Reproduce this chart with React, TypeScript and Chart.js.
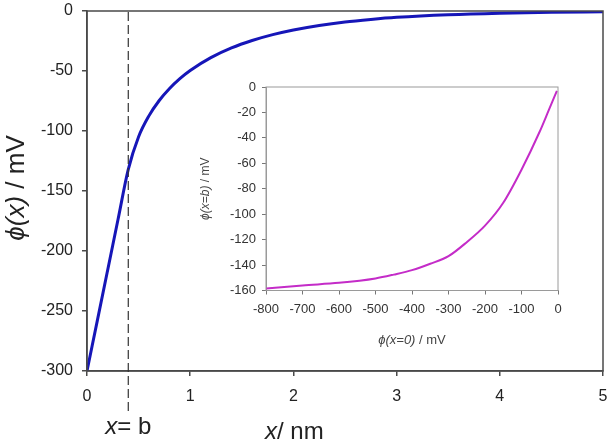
import React, { useEffect, useRef } from "react";
import { Chart, registerables } from "chart.js";

Chart.register(...registerables);

// Potential profile: distance from the surface (nm) and potential (mV)
const distanceNm = [0, 0.1, 0.2, 0.3, 0.4, 0.5, 0.6, 0.7, 0.8, 0.9, 1.0, 1.2, 1.4, 1.6, 1.8, 2.0, 2.25, 2.5, 2.75, 3.0, 3.5, 4.0, 4.5, 5.0];
const potentialMv = [-300, -258, -216, -174, -132, -104.8, -87.4, -74.6, -64.6, -56.4, -49.6, -38.9, -30.8, -24.6, -19.7, -15.8, -12.0, -9.1, -7.0, -5.3, -3.1, -1.8, -1.05, -0.6];

// Position of the plane x = b (nm)
const planeB = 0.4;

// Inset: potential at x = b against surface potential at x = 0 (mV)
const surfacePotential = [-800, -700, -600, -500, -450, -400, -350, -300, -250, -200, -150, -100, -50, -25, -3];
const planePotential = [-158.5, -156, -154, -150.5, -147.5, -144, -139, -133, -122, -109, -91, -65, -35, -18, -3];

const mainXTicks = [0, 1, 2, 3, 4, 5];
const mainYTicks = [0, -50, -100, -150, -200, -250, -300];
const insetXTicks = [-800, -700, -600, -500, -400, -300, -200, -100, 0];
const insetYTicks = [0, -20, -40, -60, -80, -100, -120, -140, -160];

const FAMILY = "'Liberation Sans', Arial, Helvetica, sans-serif";

type Seg = { t: string; italic?: boolean };

function segWidth(ctx: CanvasRenderingContext2D, segs: Seg[], size: number) {
  let w = 0;
  for (const s of segs) {
    ctx.font = `${s.italic ? "italic " : ""}${size}px ${FAMILY}`;
    w += ctx.measureText(s.t).width;
  }
  return w;
}

// Draws mixed italic / upright text starting at x (or centred on x)
function drawSegs(
  ctx: CanvasRenderingContext2D,
  segs: Seg[],
  x: number,
  y: number,
  size: number,
  color: string,
  centred: boolean,
  baseline: CanvasTextBaseline
) {
  let cx = centred ? x - segWidth(ctx, segs, size) / 2 : x;
  ctx.fillStyle = color;
  ctx.textAlign = "left";
  ctx.textBaseline = baseline;
  for (const s of segs) {
    ctx.font = `${s.italic ? "italic " : ""}${size}px ${FAMILY}`;
    ctx.fillText(s.t, cx, y);
    cx += ctx.measureText(s.t).width;
  }
}

// Keep the plot area exactly where the layout padding puts it
function noOverflow(s: any) {
  s.paddingTop = 0;
  s.paddingBottom = 0;
  s.paddingLeft = 0;
  s.paddingRight = 0;
}

function frame(color: string, width: number) {
  return {
    id: "frame",
    afterDatasetsDraw(chart: any) {
      const { ctx, chartArea } = chart;
      ctx.save();
      ctx.strokeStyle = color;
      ctx.lineWidth = width;
      ctx.strokeRect(chartArea.left, chartArea.top, chartArea.right - chartArea.left, chartArea.bottom - chartArea.top);
      ctx.restore();
    },
  };
}

const mainDecor = {
  id: "mainDecor",
  afterDraw(chart: any) {
    const { ctx, chartArea, scales } = chart;
    ctx.save();
    // dashed marker at x = b
    const xb = scales.x.getPixelForValue(planeB);
    ctx.strokeStyle = "#333";
    ctx.lineWidth = 1.2;
    ctx.setLineDash([9, 4]);
    ctx.beginPath();
    ctx.moveTo(xb, chartArea.top + 1);
    ctx.lineTo(xb, 412);
    ctx.stroke();
    ctx.setLineDash([]);

    // y axis title
    ctx.save();
    ctx.translate(17, 188);
    ctx.rotate(-Math.PI / 2);
    drawSegs(ctx, [{ t: "ϕ(x)", italic: true }, { t: " / mV" }], 0, 0, 26, "#222", true, "middle");
    ctx.restore();

    // x axis title and plane label
    drawSegs(ctx, [{ t: "x", italic: true }, { t: "/ nm" }], 265, 439, 24, "#222", false, "alphabetic");
    drawSegs(ctx, [{ t: "x", italic: true }, { t: "= b" }], xb, 434, 24, "#222", true, "alphabetic");
    ctx.restore();
  },
};

const insetDecor = {
  id: "insetDecor",
  afterDraw(chart: any) {
    const { ctx, chartArea } = chart;
    ctx.save();
    const cx = (chartArea.left + chartArea.right) / 2;
    drawSegs(ctx, [{ t: "ϕ(x=0)", italic: true }, { t: " / mV" }], cx, 265, 13, "#444", true, "middle");
    ctx.translate(11, (chartArea.top + chartArea.bottom) / 2);
    ctx.rotate(-Math.PI / 2);
    drawSegs(ctx, [{ t: "ϕ(x=b)", italic: true }, { t: " / mV" }], 0, 0, 12, "#444", true, "middle");
    ctx.restore();
  },
};

export default function App() {
  const mainRef = useRef<HTMLCanvasElement>(null);
  const insetRef = useRef<HTMLCanvasElement>(null);

  useEffect(() => {
    document.body.style.margin = "0";
    const axisMain = "#4a4a4a";
    const main = new Chart(mainRef.current!, {
      type: "line",
      data: {
        datasets: [
          {
            data: distanceNm.map((x, i) => ({ x, y: potentialMv[i] })),
            borderColor: "#1616b8",
            borderWidth: 3,
            pointRadius: 0,
            cubicInterpolationMode: "monotone",
          },
        ],
      },
      options: {
        animation: false,
        responsive: false,
        maintainAspectRatio: false,
        layout: { padding: { top: 11, right: 9, left: 0, bottom: 0 } },
        plugins: { legend: { display: false }, tooltip: { enabled: false } },
        scales: {
          x: {
            type: "linear",
            min: 0,
            max: 5,
            afterBuildTicks: (s: any) => { s.ticks = mainXTicks.map((v) => ({ value: v })); },
            ticks: { font: { size: 16, family: FAMILY }, color: "#222", padding: 11, maxRotation: 0 },
            grid: { drawOnChartArea: false, tickLength: 5, color: axisMain, lineWidth: 1.5 },
            border: { color: axisMain, width: 1.5 },
            afterFit: (s: any) => { s.height = 73; noOverflow(s); },
          },
          y: {
            type: "linear",
            min: -300,
            max: 0,
            afterBuildTicks: (s: any) => { s.ticks = mainYTicks.map((v) => ({ value: v })); },
            ticks: { font: { size: 16, family: FAMILY }, color: "#222", padding: 9 },
            grid: { drawOnChartArea: false, tickLength: 5, color: axisMain, lineWidth: 1.5 },
            border: { color: axisMain, width: 1.5 },
            afterFit: (s: any) => { s.width = 87; noOverflow(s); },
          },
        },
      },
      plugins: [frame(axisMain, 1.5), mainDecor],
    });

    const axisInset = "#9a9a9a";
    const inset = new Chart(insetRef.current!, {
      type: "line",
      data: {
        datasets: [
          {
            data: surfacePotential.map((x, i) => ({ x, y: planePotential[i] })),
            borderColor: "#c42cc8",
            borderWidth: 2,
            pointRadius: 0,
            cubicInterpolationMode: "monotone",
          },
        ],
      },
      options: {
        animation: false,
        responsive: false,
        maintainAspectRatio: false,
        layout: { padding: { top: 12, right: 17, left: 0, bottom: 0 } },
        plugins: { legend: { display: false }, tooltip: { enabled: false } },
        scales: {
          x: {
            type: "linear",
            min: -800,
            max: 0,
            afterBuildTicks: (s: any) => { s.ticks = insetXTicks.map((v) => ({ value: v })); },
            ticks: { font: { size: 13, family: FAMILY }, color: "#333", padding: 7, maxRotation: 0, autoSkip: false },
            grid: { drawOnChartArea: false, tickLength: 4, color: "#777", lineWidth: 1 },
            border: { color: axisInset, width: 1 },
            afterFit: (s: any) => { s.height = 59.5; noOverflow(s); },
          },
          y: {
            type: "linear",
            min: -160,
            max: 0,
            afterBuildTicks: (s: any) => { s.ticks = insetYTicks.map((v) => ({ value: v })); },
            ticks: { font: { size: 13, family: FAMILY }, color: "#333", padding: 6, autoSkip: false },
            grid: { drawOnChartArea: false, tickLength: 4, color: "#777", lineWidth: 1 },
            border: { color: axisInset, width: 1 },
            afterFit: (s: any) => { s.width = 71; noOverflow(s); },
          },
        },
      },
      plugins: [frame(axisInset, 1), insetDecor],
    });

    return () => {
      main.destroy();
      inset.destroy();
    };
  }, []);

  return (
    <div style={{ position: "relative", width: 612, height: 444, background: "#fff" }}>
      <canvas ref={mainRef} width={612} height={444} style={{ position: "absolute", left: 0, top: 0 }} />
      <canvas ref={insetRef} width={380} height={275} style={{ position: "absolute", left: 195, top: 75 }} />
    </div>
  );
}
